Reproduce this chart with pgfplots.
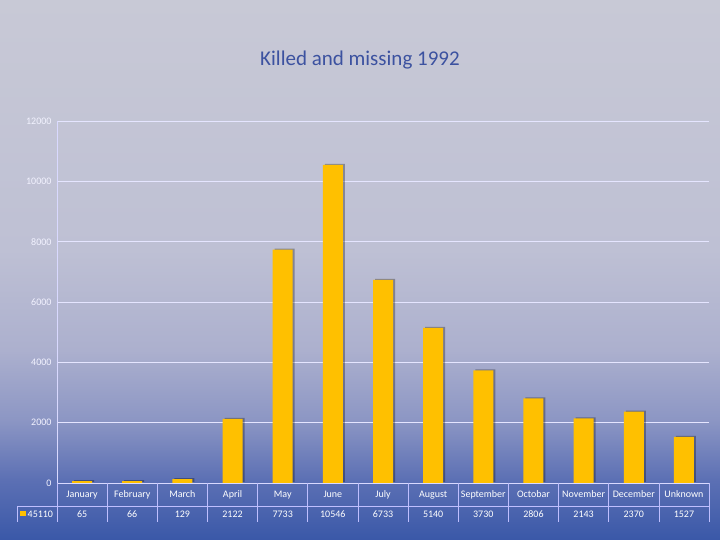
\documentclass[border=0pt]{standalone}
\usepackage{fontspec}
\setmainfont{Carlito}
\usepackage{pgfplots}
\pgfplotsset{compat=1.18}
\definecolor{cB}{RGB}{58,88,168}
\definecolor{cL}{RGB}{92,112,180}
\definecolor{cM}{RGB}{140,150,196}
\definecolor{cN}{RGB}{172,176,206}
\definecolor{cU}{RGB}{190,192,212}
\definecolor{cT}{RGB}{200,201,214}
\definecolor{titleblue}{RGB}{60,82,160}
\definecolor{barc}{RGB}{255,192,0}
\pgfdeclareverticalshading{bgshade}{100bp}{color(0bp)=(cB); color(25bp)=(cB); color(30.6bp)=(cL); color(36.1bp)=(cM); color(42.6bp)=(cN); color(51.9bp)=(cU); color(75bp)=(cT); color(100bp)=(cT)}
\begin{document}
\begin{tikzpicture}[x=1pt,y=1pt]
\shade[shading=bgshade] (0,0) rectangle (720,540);
\node[text=titleblue, font=\fontsize{21}{24}\selectfont] at (360,480) {Killed and missing 1992};
\begin{axis}[
  at={(57pt,57pt)}, anchor=south west,
  scale only axis, width=652pt, height=362pt,
  xmin=-0.5, xmax=12.5, ymin=0, ymax=12000,
  ytick={0,2000,...,12000},
  scaled y ticks=false,
  xtick={0,...,12},
  xticklabels={{January\\65},{February\\66},{March\\129},{April\\2122},{May\\7733},{June\\10546},{July\\6733},{August\\5140},{September\\3730},{Octobar\\2806},{November\\2143},{December\\2370},{Unknown\\1527}},
  xticklabel style={align=center, font=\fontsize{10}{20}\selectfont, text=white, yshift=-4.5pt},
  yticklabel style={font=\fontsize{10}{12}\selectfont, text=white!95!blue, xshift=-2pt},
  /pgf/number format/1000 sep={},
  /pgf/number format/assume math mode=true,
  major tick length=0pt,
  axis x line*=bottom, axis y line*=left,
  axis line style={white!85!blue, line width=0.6pt},
  ymajorgrids, grid style={white!90!blue, line width=0.6pt},
  clip=false,
]
\addplot[ybar, bar width=20pt, bar shift=2pt, fill=black, fill opacity=0.3, draw=none, yshift=1pt] coordinates {(0,65) (1,66) (2,129) (3,2122) (4,7733) (5,10546) (6,6733) (7,5140) (8,3730) (9,2806) (10,2143) (11,2370) (12,1527)};
\addplot[ybar, bar width=20pt, bar shift=0pt, fill=barc, draw=none] coordinates {(0,65) (1,66) (2,129) (3,2122) (4,7733) (5,10546) (6,6733) (7,5140) (8,3730) (9,2806) (10,2143) (11,2370) (12,1527)};
\end{axis}
\foreach \k in {0,...,13} \draw[white!75!blue, line width=0.6pt] (57+652*\k/13,57) -- (57+652*\k/13,18);
\draw[white!75!blue, line width=0.6pt] (17,34) -- (709,34);
\draw[white!75!blue, line width=0.6pt] (17,34) -- (17,18);
\fill[barc] (20,23.5) rectangle (25.5,29);
\node[text=white, font=\fontsize{10}{12}\selectfont, anchor=west, inner sep=0pt] at (27.5,26) {45110};
\end{tikzpicture}
\end{document}
